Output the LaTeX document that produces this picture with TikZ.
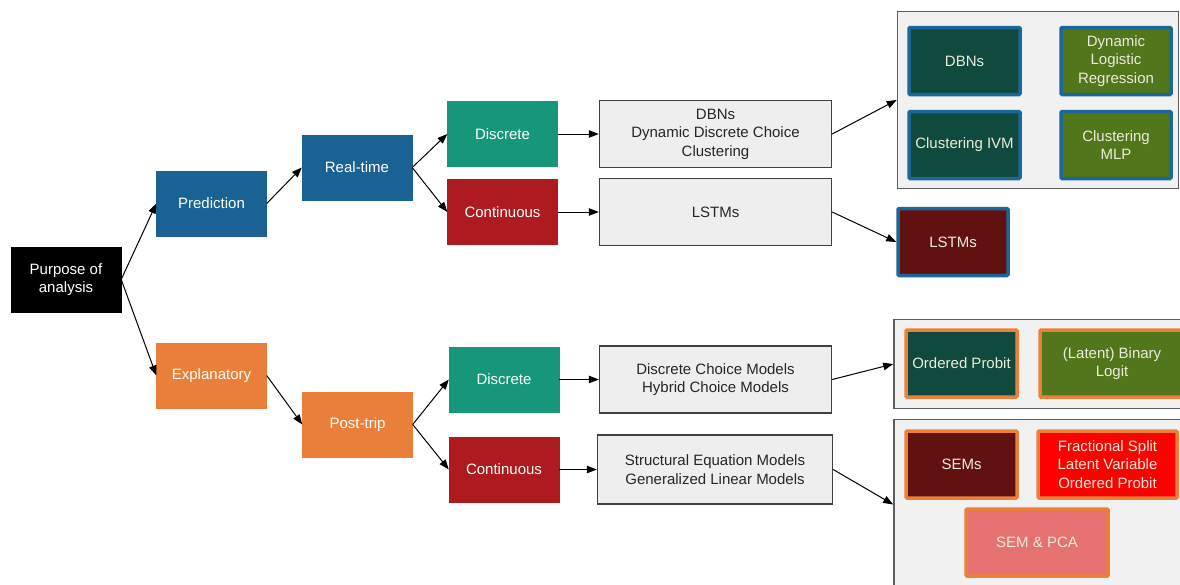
\documentclass[tikz,border=0pt]{standalone}
\usepackage{fontspec}
\setmainfont{Liberation Sans}
\usetikzlibrary{arrows.meta}

\definecolor{predblue}{RGB}{26,98,148}
\definecolor{explorange}{RGB}{234,127,57}
\definecolor{discteal}{RGB}{22,151,122}
\definecolor{contred}{RGB}{173,27,30}
\definecolor{boxgray}{RGB}{238,238,238}
\definecolor{linegray}{RGB}{64,64,64}
\definecolor{groupgray}{RGB}{241,241,241}
\definecolor{darkgreen}{RGB}{16,73,62}
\definecolor{olive}{RGB}{81,118,27}
\definecolor{darkred}{RGB}{98,17,17}
\definecolor{brightred}{RGB}{255,0,0}
\definecolor{salmon}{RGB}{230,113,113}
\definecolor{rimblue}{RGB}{28,102,152}
\definecolor{rimorange}{RGB}{237,128,56}
\definecolor{paletext}{RGB}{236,236,218}

\begin{document}
\begin{tikzpicture}[x=1pt,y=-1pt,>={Triangle[length=10pt,width=7.5pt]},
font=\fontsize{15}{18.5}\selectfont,
blk/.style={rectangle, fill=#1, draw=#1, text=white, align=center,
  minimum width=110pt, minimum height=65pt, inner sep=2pt},
grybox/.style={rectangle, fill=boxgray, draw=linegray, line width=1.4pt,
  text={black!85}, align=center, minimum width=232pt, minimum height=67pt},
grp/.style={rectangle, fill=groupgray, draw=linegray!85, line width=1.6pt},
mdl/.style={rectangle, fill=#1, line width=3.5pt, text=paletext,
  align=center, minimum height=67pt, inner sep=1pt, rounded corners=1pt}]
\useasboundingbox (0,0) rectangle (1180,584);

% tree
\node[blk=black] (purpose) at (66,279.5) {Purpose of\\analysis};
\node[blk=predblue] (pred) at (211.5,203.5) {Prediction};
\node[blk=explorange] (expl) at (211.5,375.5) {Explanatory};
\node[blk=predblue] (realtime) at (357,167.5) {Real-time};
\node[blk=explorange] (posttrip) at (357.5,424.5) {Post-trip};
\node[blk=discteal] (rtdisc) at (502.5,134) {Discrete};
\node[blk=contred] (rtcont) at (502.5,212) {Continuous};
\node[blk=discteal] (ptdisc) at (504,379.5) {Discrete};
\node[blk=contred] (ptcont) at (504,469.5) {Continuous};

% model lists
\node[grybox] (rtdisclist) at (715.5,134) {DBNs\\Dynamic Discrete Choice\\Clustering};
\node[grybox] (rtcontlist) at (715.5,212) {LSTMs};
\node[grybox] (ptdisclist) at (715.5,379.5) {Discrete Choice Models\\Hybrid Choice Models};
\node[grybox, minimum width=235pt, minimum height=69pt] (ptcontlist) at (715,469.5)
  {Structural Equation Models\\Generalized Linear Models};

% groups
\node[grp, minimum width=281pt, minimum height=177pt] (rtgroup) at (1038,100) {};
\node[grp, minimum width=292pt, minimum height=89pt] (ptdiscgroup) at (1040,364) {};
\node[grp, minimum width=292pt, minimum height=170pt] (ptcontgroup) at (1040,504.5) {};

\node[mdl=darkgreen, draw=rimblue, minimum width=111pt] (dbn) at (964.5,61) {DBNs};
\node[mdl=olive, draw=rimblue, minimum width=110pt] (dlr) at (1116,61) {Dynamic\\Logistic\\Regression};
\node[mdl=darkgreen, draw=rimblue, minimum width=111pt] (civm) at (964.5,145) {Clustering IVM};
\node[mdl=olive, draw=rimblue, minimum width=110pt] (cmlp) at (1116,145) {Clustering\\MLP};
\node[mdl=darkred, draw=rimblue, minimum width=110pt] (lstm) at (953,242) {LSTMs};
\node[mdl=darkgreen, draw=rimorange, minimum width=111pt] (oprobit) at (961.5,363.5) {Ordered Probit};
\node[mdl=olive, draw=rimorange, minimum width=144pt] (binlogit) at (1112,363.5) {(Latent) Binary\\Logit};
\node[mdl=darkred, draw=rimorange, minimum width=111pt] (sems) at (961.5,464.5) {SEMs};
\node[mdl=brightred, draw=rimorange, minimum width=139pt] (fracsplit) at (1107.5,464.5)
  {Fractional Split\\Latent Variable\\Ordered Probit};
\node[mdl=salmon, draw=rimorange, minimum width=142pt] (sempca) at (1037,542.5) {SEM \& PCA};

% arrows
\path[->,line width=1pt](purpose.east) edge (pred.west);
\path[->,line width=1pt](purpose.east) edge (expl.west);
\path[->,line width=1pt](pred.east) edge (realtime.west);
\path[->,line width=1pt](expl.east) edge (posttrip.west);
\path[->,line width=1pt](realtime.east) edge (rtdisc.west);
\path[->,line width=1pt](realtime.east) edge (rtcont.west);
\path[->,line width=1pt](posttrip.east) edge (ptdisc.west);
\path[->,line width=1pt](posttrip.east) edge (ptcont.west);
\path[->,line width=1pt](rtdisc.east) edge (rtdisclist.west);
\path[->,line width=1pt](rtcont.east) edge (rtcontlist.west);
\path[->,line width=1pt](ptdisc.east) edge (ptdisclist.west);
\path[->,line width=1pt](ptcont.east) edge (ptcontlist.west);
\path[->,line width=1pt](rtdisclist.east) edge (rtgroup.west);
\path[->,line width=1pt](rtcontlist.east) edge (lstm.west);
\path[->,line width=1pt](ptdisclist.east) edge (ptdiscgroup.west);
\path[->,line width=1pt](ptcontlist.east) edge (ptcontgroup.west);
\end{tikzpicture}
\end{document}
